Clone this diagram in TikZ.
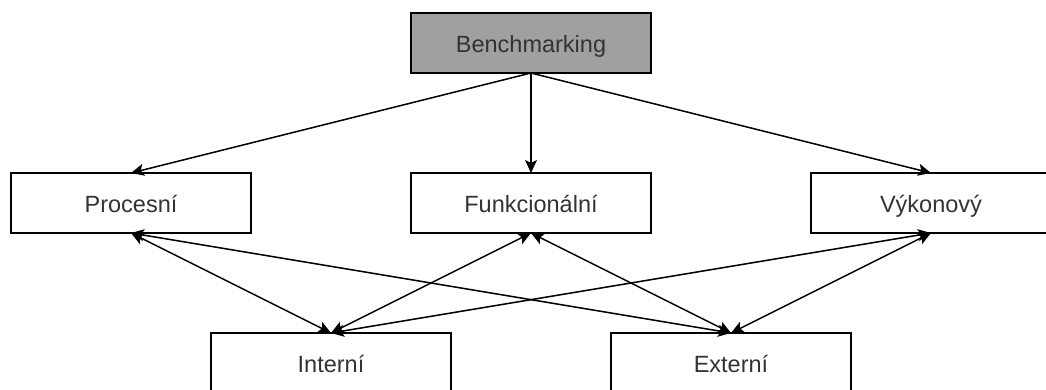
\documentclass[tikz,border=0pt]{standalone}
\usepackage{fontspec}
\setmainfont{Liberation Sans}
\usetikzlibrary{positioning,arrows.meta}
\definecolor{ink}   {HTML}{000000}
\definecolor{txt}   {HTML}{333333}
\definecolor{headbg}{HTML}{A0A0A0}
\tikzset{
  kind/.style = {draw=ink, fill=white, line width=1.5pt,
                 minimum width=240pt, minimum height=60pt,
                 inner sep=0pt, outer sep=0pt, text=txt,
                 text height=24pt, text depth=5pt,
                 font=\fontsize{23.5}{26}\selectfont},
  root/.style = {kind, fill=headbg},
  link/.style = {-{Stealth[length=13pt,width=12pt,inset=3pt]},
                 draw=ink, line width=1.5pt},
  both/.style = {{Stealth[length=13pt,width=12pt,inset=3pt]}-{Stealth[length=13pt,width=12pt,inset=3pt]},
                 draw=ink, line width=1.5pt},
}
\begin{document}
\begin{tikzpicture}[node distance=160pt]
  \useasboundingbox (0,0) rectangle (1046pt,-390pt);

  \node[kind] (proc) at (131pt,-203pt) {Procesní};
  \node[kind] (funk) [right=of proc]   {Funkcionální};
  \node[kind] (vyk)  [right=of funk]   {Výkonový};
  \node[root] (bench) [above=100pt of funk] {Benchmarking};
  \node[kind] (int)  at (331pt,-363pt) {Interní};
  \node[kind] (ext)  [right=of int]    {Externí};

  \draw[link] (bench.south) -- (proc.north);
  \draw[link] (bench.south) -- (funk.north);
  \draw[link] (bench.south) -- (vyk.north);

  \draw[both] (proc.south) -- (int.north);
  \draw[both] (proc.south) -- (ext.north);
  \draw[both] (funk.south) -- (int.north);
  \draw[both] (funk.south) -- (ext.north);
  \draw[both] (vyk.south)  -- (int.north);
  \draw[both] (vyk.south)  -- (ext.north);
\end{tikzpicture}
\end{document}
